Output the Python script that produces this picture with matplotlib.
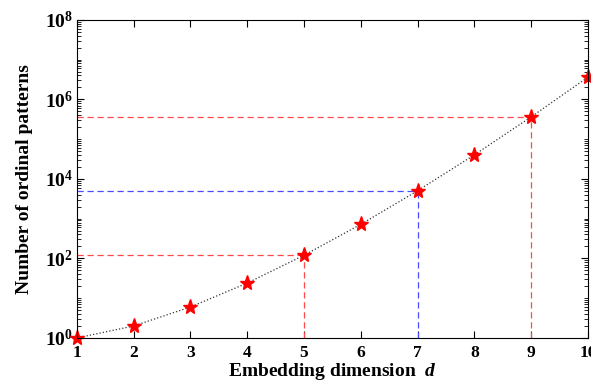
import numpy as np
import matplotlib.pyplot as plt
from matplotlib.ticker import LogLocator, NullFormatter

plt.rcParams['font.family'] = ['Liberation Serif', 'DejaVu Serif']
plt.rcParams['mathtext.fontset'] = 'custom'
plt.rcParams['mathtext.rm'] = 'Liberation Serif:bold'
plt.rcParams['mathtext.bf'] = 'Liberation Serif:bold'
plt.rcParams['mathtext.it'] = 'Liberation Serif:bold:italic'

# embedding dimension and number of ordinal patterns (d!)
d = [1, 2, 3, 4, 5, 6, 7, 8, 9, 10]
n_patterns = [1, 2, 6, 24, 120, 720, 5040, 40320, 362880, 3628800]

# guide lines: (d, value, colour)
guides = [(5, 120, '#ff4a4a'), (7, 5040, '#4a4aff'), (9, 362880, '#ff4a4a')]

fig = plt.figure(figsize=(5.91, 3.81), dpi=100)
ax = fig.add_axes([0.130, 0.113, 0.865, 0.835])

for gx, gy, col in guides:
    ax.plot([d[0], gx], [gy, gy], '--', color=col, lw=0.9, dashes=(5, 3))
    ax.plot([gx, gx], [1, gy], '--', color=col, lw=0.9, dashes=(5, 3))

ax.plot(d, n_patterns, ':', color='#333333', lw=0.9)
ax.plot(d, n_patterns, '*', color='red', ms=11, mec='red', clip_on=False)

ax.set_yscale('log')
ax.set_xlim(1, 10)
ax.set_ylim(1, 1e8)
ax.set_xticks(d)
ax.set_yticks([1, 1e2, 1e4, 1e6, 1e8])
ax.yaxis.set_minor_locator(LogLocator(base=10, subs=np.arange(1, 10), numticks=50))
ax.yaxis.set_minor_formatter(NullFormatter())
ax.set_yticklabels([r'$\mathbf{10^{%d}}$' % k for k in [0, 2, 4, 6, 8]])
ax.tick_params(which='both', direction='in', top=True, right=True)
ax.tick_params(axis='y', labelsize=14, pad=3)
ax.tick_params(axis='x', labelsize=12.5, pad=5)
ax.tick_params(which='major', length=5, width=0.8)
ax.tick_params(which='minor', length=3, width=0.6)
for lab in ax.get_xticklabels():
    lab.set_fontweight('bold')

ax.set_xlabel(r'Embedding dimension  $d$', fontsize=14, fontweight='bold', labelpad=0)
ax.set_ylabel('Number of ordinal patterns', fontsize=14, fontweight='bold', labelpad=8)

fig.savefig('out.png', dpi=100)
